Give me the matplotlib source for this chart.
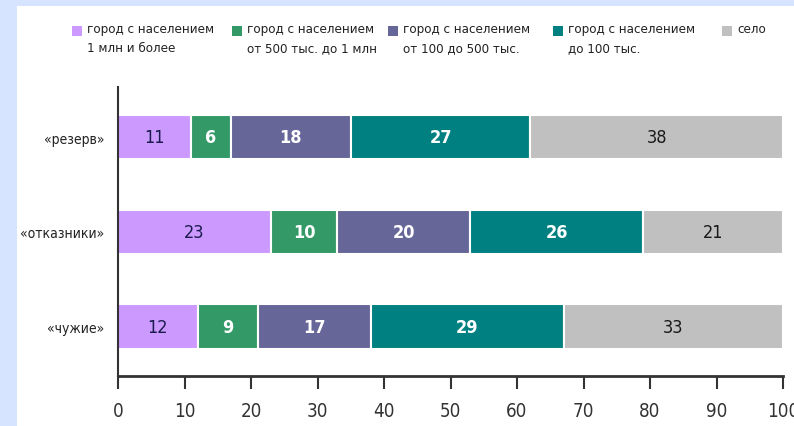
import numpy as np
import matplotlib.pyplot as plt
from matplotlib.patches import Rectangle

plt.rcParams['font.family'] = ['DejaVu Sans']
plt.rcParams['font.stretch'] = 'condensed'

categories = ['«резерв»', '«отказники»', '«чужие»']
groups = ['город с населением\n1 млн и более',
          'город с населением\nот 500 тыс. до 1 млн',
          'город с населением\nот 100 до 500 тыс.',
          'город с населением\nдо 100 тыс.',
          'село']

big_city = [11, 23, 12]
city_500 = [6, 10, 9]
city_100 = [18, 20, 17]
town = [27, 26, 29]
village = [38, 21, 33]
series = [big_city, city_500, city_100, town, village]

colors = ['#cc99ff', '#339966', '#666699', '#008080', '#c0c0c0']
label_colors = ['#1a1a4d', 'white', 'white', 'white', '#1a1a1a']
xticks = np.arange(0, 101, 10)

W, H = 794, 427
fig = plt.figure(figsize=(W / 100, H / 100), dpi=100)
fig.patch.set_facecolor('#d6e4ff')
fig.patches.append(Rectangle((17 / W, 0), 1, 1 - 7 / H, transform=fig.transFigure,
                             facecolor='white', edgecolor='none', zorder=-5))

ax = fig.add_axes([118 / W, 1 - 377 / H, 665 / W, 289 / H])
ax.set_facecolor('none')

y = np.arange(len(categories))
left = np.zeros(len(categories))
for vals, col, tcol in zip(series, colors, label_colors):
    vals = np.array(vals)
    bars = ax.barh(y, vals, left=left, height=0.47, color=col,
                   edgecolor='white', linewidth=1.5)
    weight = 'bold' if tcol == 'white' else 'normal'
    ax.bar_label(bars, labels=[str(v) for v in vals], label_type='center',
                 color=tcol, fontsize=13, fontweight=weight)
    left += vals

ax.set_xlim(0, 100)
ax.set_ylim(2.52, -0.53)
ax.set_yticks(y)
ax.set_yticklabels(categories, fontsize=10, color='#222222')
ax.set_xticks(xticks)
ax.set_xticklabels([str(t) for t in xticks], fontsize=13.5, color='#333333')
ax.tick_params(axis='y', length=0, pad=10)
ax.tick_params(axis='x', direction='out', length=9, width=1.5, color='#333333', pad=9)
for s in ['top', 'right']:
    ax.spines[s].set_visible(False)
ax.spines['bottom'].set_linewidth(2)
ax.spines['bottom'].set_color('#333333')
ax.spines['left'].set_linewidth(1.5)
ax.spines['left'].set_color('#333333')

# legend, placed by hand
legend_x = [72, 232, 388, 553, 722]
for gx, label, col in zip(legend_x, groups, colors):
    fig.patches.append(Rectangle((gx / W, 1 - 37 / H), 10 / W, 10 / H,
                                 transform=fig.transFigure, facecolor=col,
                                 edgecolor='none'))
    fig.text((gx + 15) / W, 1 - 23 / H, label, fontsize=9.5, color='#222222',
             va='top', ha='left', linespacing=1.6)

fig.savefig('out.png', dpi=100)
